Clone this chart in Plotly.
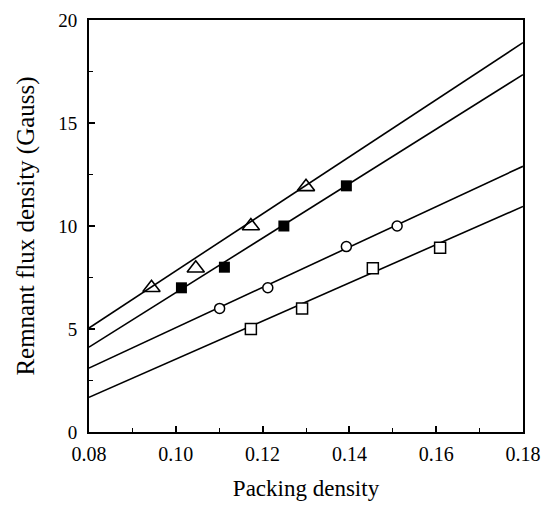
import plotly.graph_objects as go

# Measured points
tri_x = [0.0944, 0.1046, 0.1173, 0.1300]
tri_y = [7.0, 7.95, 10.0, 11.9]
fsq_x = [0.1013, 0.1112, 0.1249, 0.1393]
fsq_y = [7.0, 8.0, 10.0, 11.95]
cir_x = [0.1101, 0.1212, 0.1393, 0.1510]
cir_y = [6.0, 7.0, 9.0, 10.0]
osq_x = [0.1173, 0.1291, 0.1454, 0.1609]
osq_y = [5.0, 6.0, 7.95, 8.95]

# Fitted lines (end points read at x = 0.08 and x = 0.18)
line_x = [0.08, 0.18]
tri_line = [5.05, 18.9]
fsq_line = [4.12, 17.35]
cir_line = [3.1, 12.9]
osq_line = [1.68, 10.95]

x_ticks = [0.08, 0.10, 0.12, 0.14, 0.16, 0.18]
x_tick_text = ["0.08", "0.10", "0.12", "0.14", "0.16", "0.18"]
y_ticks = [0, 5, 10, 15, 20]

fig = go.Figure()
for ly in [tri_line, fsq_line, cir_line, osq_line]:
    fig.add_trace(go.Scatter(x=line_x, y=ly, mode="lines",
                             line=dict(color="black", width=1.6),
                             showlegend=False, hoverinfo="skip"))

fig.add_trace(go.Scatter(x=tri_x, y=tri_y, mode="markers",
                         marker=dict(symbol="triangle-up-open", size=15, color="black",
                                     line=dict(width=1.6)), showlegend=False))
fig.add_trace(go.Scatter(x=fsq_x, y=fsq_y, mode="markers",
                         marker=dict(symbol="square", size=11, color="black",
                                     line=dict(width=0)), showlegend=False))
fig.add_trace(go.Scatter(x=cir_x, y=cir_y, mode="markers",
                         marker=dict(symbol="circle", size=10, color="white",
                                     line=dict(width=1.5, color="black")), showlegend=False))
fig.add_trace(go.Scatter(x=osq_x, y=osq_y, mode="markers",
                         marker=dict(symbol="square", size=11, color="white",
                                     line=dict(width=1.5, color="black")), showlegend=False))

font = "Liberation Serif, Times New Roman, serif"
fig.update_layout(
    width=551, height=507,
    margin=dict(l=89, r=28, t=10, b=73),
    paper_bgcolor="white", plot_bgcolor="white",
    font=dict(family=font, color="black", size=19),
)
fig.update_xaxes(
    range=[0.08, 0.18], tickvals=x_ticks, ticktext=x_tick_text,
    ticks="inside", ticklen=6, tickwidth=1.5, tickcolor="black",
    minor=dict(dtick=0.01, tick0=0.08, ticks="inside", ticklen=4, tickwidth=1.2, tickcolor="black"),
    showline=True, linecolor="black", linewidth=2, mirror=True,
    showgrid=False, zeroline=False,
    tickfont=dict(size=20), ticklabelstandoff=3,
    title=dict(text="Packing density", font=dict(size=23), standoff=16),
)
fig.update_yaxes(
    range=[0, 20], tickvals=y_ticks,
    ticks="inside", ticklen=6, tickwidth=1.5, tickcolor="black",
    minor=dict(dtick=2.5, tick0=0, ticks="inside", ticklen=4, tickwidth=1.2, tickcolor="black"),
    showline=True, linecolor="black", linewidth=2, mirror=True,
    showgrid=False, zeroline=False,
    tickfont=dict(size=19), ticklabelstandoff=6,
    title=dict(text="Remnant flux density (Gauss)", font=dict(size=25), standoff=16),
)

fig.write_html("out.html", config={"displayModeBar": False},
               post_script="document.body.style.margin='0';document.body.style.padding='0';")
